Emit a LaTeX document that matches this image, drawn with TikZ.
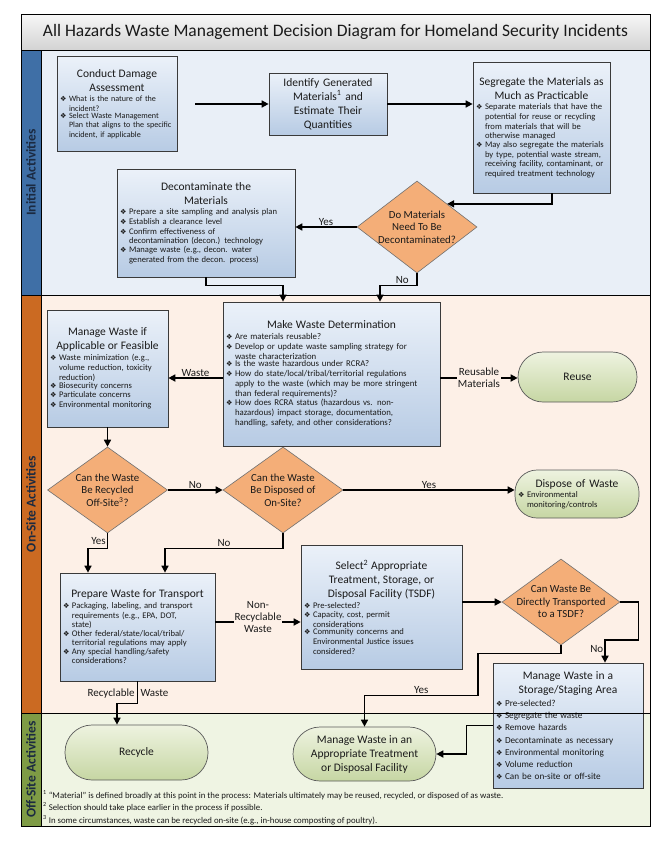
\documentclass[tikz,border=0pt]{standalone}
\usepackage{fontspec}
\setmainfont{Carlito}
\newfontfamily\symfont{DejaVu Sans}
\usetikzlibrary{arrows.meta,shapes.geometric,calc}
\definecolor{initbg}{HTML}{E9EFF7}
\definecolor{onbg}{HTML}{FDF0E7}
\definecolor{offbg}{HTML}{EFF4E3}
\definecolor{initstrip}{HTML}{3F6FA6}
\definecolor{onstrip}{HTML}{CB6A22}
\definecolor{offstrip}{HTML}{7E9B45}
\definecolor{boxtop}{HTML}{EBF1F9}
\definecolor{boxbot}{HTML}{B7CBE4}
\definecolor{boxdraw}{HTML}{3A3A3A}
\definecolor{diafill}{HTML}{F4AE78}
\definecolor{diadraw}{HTML}{707070}
\definecolor{greentop}{HTML}{EEF3E0}
\definecolor{greenbot}{HTML}{C6D6A3}
\definecolor{greendraw}{HTML}{5A5A5A}
\definecolor{titletop}{HTML}{F7F7F7}
\definecolor{titlebot}{HTML}{D3D3D3}
\definecolor{txt}{HTML}{1A1A1A}
\definecolor{lanetxt}{HTML}{1B2A41}
\newcommand{\bul}{{\symfont\fontsize{7.2}{7.2}\selectfont ❖}}
\newcommand{\itm}[1]{\par\noindent\makebox[9pt][l]{\bul}\parbox[t]{\dimexpr\linewidth-5pt\relax}{\raggedright #1}\par}
\newcommand{\ttl}[1]{{\centering\fontsize{11.5}{14}\selectfont #1\par}\vspace{1pt}}
\begin{document}
\begin{tikzpicture}[x=1pt,y=-1pt,
  box/.style={draw=boxdraw,line width=0.7pt,top color=boxtop,bottom color=boxbot,inner xsep=3pt,inner ysep=2pt,align=left,font=\fontsize{8.6}{9.7}\selectfont,text=txt},
  diam/.style={diamond,draw=diadraw,line width=0.6pt,fill=diafill,inner sep=0pt},
  dlabel/.style={align=center,font=\fontsize{10.8}{12.5}\selectfont,text=txt},
  term/.style={draw=greendraw,line width=0.7pt,top color=greentop,bottom color=greenbot,align=center,font=\fontsize{11.5}{14}\selectfont,text=txt},
  arr/.style={-{Triangle[length=7pt,width=7pt]},line width=1.6pt},
  lbl/.style={font=\fontsize{11}{12}\selectfont,text=txt,inner sep=1pt},
  lanelbl/.style={rotate=90,font=\bfseries\fontsize{13.5}{14}\selectfont,text=lanetxt}]
\useasboundingbox (0,0) rectangle (662,854);
% lanes
\fill[initbg] (41,50) rectangle (650,295);
\fill[onbg] (41,295) rectangle (650,713);
\fill[offbg] (41,713) rectangle (650,826);
\fill[initstrip] (21,50) rectangle (41,295);
\fill[onstrip] (21,295) rectangle (41,713);
\fill[offstrip] (21,713) rectangle (41,826);
\draw[line width=0.6pt] (41,50) -- (41,826);
\shade[top color=titletop,bottom color=titlebot,draw=black,line width=0.8pt] (21,14) rectangle (650,50);
\node[font=\fontsize{17.5}{17.5}\selectfont,text=txt] (title) at (335.5,32) {All Hazards Waste Management Decision Diagram for Homeland Security Incidents};
\node[lanelbl] (lane1) at (31,172.5) {Initial Activities};
\node[lanelbl] (lane2) at (31,504) {On-Site Activities};
\node[lanelbl] (lane3) at (31,769.5) {Off-Site Activities};

% nodes
\node[box,text width=114,minimum height=95,font=\fontsize{8.1}{9.6}\selectfont] (conduct) at (117,104) {\ttl{Conduct Damage\\Assessment}\itm{What is the nature of the\\incident?}\itm{Select Waste Management\\Plan that aligns to the specific\\incident, if applicable}};
\node[box,text width=112,minimum height=62,align=center,font=\fontsize{11.5}{14}\selectfont] (identify) at (328,104) {Identify Generated\\Materials\textsuperscript{1} and\\Estimate Their\\Quantities};
\node[box,text width=131,minimum height=131] (segregate) at (541.5,127.5) {\ttl{Segregate the Materials as\\Much as Practicable}\itm{Separate materials that have the\\potential for reuse or recycling\\from materials that will be\\otherwise managed}\itm{May also segregate the materials\\by type, potential waste stream,\\receiving facility, contaminant, or\\required treatment technology}};
\node[box,text width=172,minimum height=108] (decon) at (206,223) {\ttl{Decontaminate the\\Materials}\itm{Prepare a site sampling and analysis plan}\itm{Establish a clearance level}\itm{Confirm effectiveness of\\decontamination (decon.) technology}\itm{Manage waste (e.g., decon. water\\generated from the decon. process)}};
\node[diam,minimum width=120,minimum height=92,label={[dlabel]center:{Do Materials\\Need To Be\\Decontaminated?}}] (D1) at (417,227) {};
\node[box,text width=211,minimum height=144,font=\fontsize{8.8}{10}\selectfont] (make) at (331.5,374) {\ttl{Make Waste Determination}\itm{Are materials reusable?}\itm{Develop or update waste sampling strategy for\\waste characterization}\itm{Is the waste hazardous under RCRA?}\itm{How do state/local/tribal/territorial regulations\\apply to the waste (which may be more stringent\\than federal requirements)?}\itm{How does RCRA status (hazardous vs. non-\\hazardous) impact storage, documentation,\\handling, safety, and other considerations?}};
\node[box,text width=115,minimum height=117] (manage) at (107.5,368.5) {\ttl{Manage Waste if\\Applicable or Feasible}\itm{Waste minimization (e.g.,\\volume reduction, toxicity\\reduction)}\itm{Biosecurity concerns}\itm{Particulate concerns}\itm{Environmental monitoring}};
\node[term,rectangle,rounded corners=25pt,minimum width=119,minimum height=50] (reuse) at (577.5,377) {Reuse};
\node[diam,minimum width=120,minimum height=86,label={[dlabel]center:{Can the Waste\\Be Recycled\\Off-Site\textsuperscript{3}?}}] (D2) at (107.5,490) {};
\node[diam,minimum width=120,minimum height=86,label={[dlabel]center:{Can the Waste\\Be Disposed of\\On-Site?}}] (D3) at (283,490) {};
\node[term,rectangle,rounded corners=22pt,minimum width=124,minimum height=48,text width=118,inner xsep=3pt,inner ysep=1pt,align=left] (dispose) at (577,494) {\ttl{Dispose of Waste}{\fontsize{8.6}{9.6}\selectfont\itm{Environmental\\monitoring/controls}}};
\node[box,text width=149,minimum height=108] (prepare) at (137.5,627) {\ttl{Prepare Waste for Transport}\itm{Packaging, labeling, and transport\\requirements (e.g., EPA, DOT,\\state)}\itm{Other federal/state/local/tribal/\\territorial regulations may apply}\itm{Any special handling/safety\\considerations?}};
\node[box,text width=155,minimum height=124] (select) at (381.5,607) {\ttl{Select\textsuperscript{2} Appropriate\\Treatment, Storage, or\\Disposal Facility (TSDF)}\itm{Pre-selected?}\itm{Capacity, cost, permit\\considerations}\itm{Community concerns and\\Environmental Justice issues\\considered?}};
\node[diam,minimum width=118,minimum height=86,label={[dlabel]center:{Can Waste Be\\Directly Transported\\to a TSDF?}}] (D4) at (561,602) {};
\node[box,text width=144,minimum height=125,font=\fontsize{9.2}{12.2}\selectfont] (storage) at (568,725.5) {\ttl{Manage Waste in a\\Storage/Staging Area}\itm{Pre-selected?}\itm{Segregate the waste}\itm{Remove hazards}\itm{Decontaminate as necessary}\itm{Environmental monitoring}\itm{Volume reduction}\itm{Can be on-site or off-site}};
\node[term,rectangle,rounded corners=27pt,minimum width=143,minimum height=55] (recycle) at (136.5,752.5) {Recycle};
\node[term,rectangle,rounded corners=27pt,minimum width=143,minimum height=54] (approp) at (364.5,754) {Manage Waste in an\\Appropriate Treatment\\or Disposal Facility};

% connectors
\draw[arr,shorten <=18pt] (conduct) -- (identify);
\draw[arr] (identify.east) -- (identify.east -| segregate.west);
\draw[arr] ([xshift=10.5pt]segregate.south) |- (D1.north east);
\draw[arr] (D1.west) -- node[lbl,above]{Yes} (D1.west -| decon.east);
\draw[arr] (D1.south) -- ++(0,12) -| node[lbl,above,pos=0.2]{No} ([xshift=48.5pt]make.north);
\draw[arr] (decon.south) -- ++(0,8) -| ([xshift=-48.5pt]make.north);
\coordinate (mw) at ($(make.west)+(0,4)$);
\draw[arr] (mw) -- node[lbl,above]{Waste} (mw -| manage.east);
\coordinate (me) at ($(make.east)+(0,4)$);
\draw[arr] (me) -- node[lbl,fill=onbg,align=center]{Reusable\\Materials} (me -| reuse.west);
\draw[arr] (manage) -- (D2);
\draw[arr] (D2) -- node[lbl,above]{No} (D3);
\draw[arr] (D3.east) -- node[lbl,above]{Yes} (D3.east -| dispose.west);
\draw[arr] (D2.south) -- node[lbl,left]{Yes} ++(0,15) -| ([xshift=-49.5pt]prepare.north);
\draw[arr] (D3.south) -- ++(0,15) -| node[lbl,above,pos=0.25]{No} ([xshift=27.5pt]prepare.north);
\coordinate (pe) at ($(prepare.east)+(0,-5)$);
\draw[arr] (pe) -- node[lbl,fill=onbg,align=center,yshift=5pt]{Non-\\Recyclable\\Waste} (pe -| select.west);
\coordinate (se) at ($(select.east)+(0,-5)$);
\draw[arr] (se) -- (se -| D4.west);
\draw[arr] (D4.east) -- ++(18,0) -- ++(0,38) -| node[lbl,left,pos=0.7]{No} ([xshift=37pt]storage.north);
\draw[arr] (D4.south) -- ++(0,8) -- ++(-83,0) -- ++(0,42) -| node[lbl,above,pos=0.25]{Yes} (approp.north);
\draw[arr] (storage.west) -- ++(-26,0) |- (approp.east);
\draw[arr] (prepare.south) -- ++(0,22) -| ([xshift=-19.5pt]recycle.north);
\node[lbl] (rw) at (128,694) {Recyclable\hspace{6pt}Waste};

% footnotes
\node[anchor=west,font=\fontsize{8.8}{10}\selectfont,text=txt,inner sep=0pt] (fn1) at (43,795) {\textsuperscript{1} “Material” is defined broadly at this point in the process: Materials ultimately may be reused, recycled, or disposed of as waste.};
\node[anchor=west,font=\fontsize{8.8}{10}\selectfont,text=txt,inner sep=0pt] (fn2) at (43,807.5) {\textsuperscript{2} Selection should take place earlier in the process if possible.};
\node[anchor=west,font=\fontsize{8.8}{10}\selectfont,text=txt,inner sep=0pt] (fn3) at (43,820) {\textsuperscript{3} In some circumstances, waste can be recycled on-site (e.g., in-house composting of poultry).};

% lane dividers and frame
\draw[line width=0.8pt] (21,295) -- (650,295);
\draw[line width=0.8pt] (21,713) -- (650,713);
\draw[line width=0.8pt] (21,14) rectangle (650,826);
\end{tikzpicture}
\end{document}
